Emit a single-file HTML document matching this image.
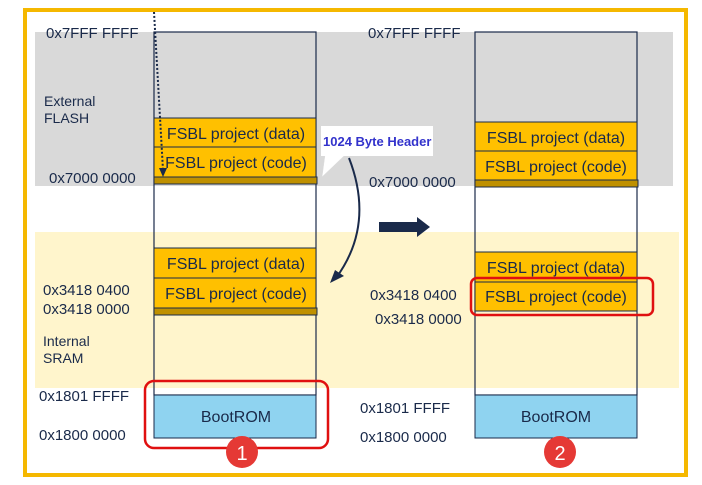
<!DOCTYPE html>
<html><head><meta charset="utf-8"><style>
body{margin:0;width:702px;height:485px;background:#fff;overflow:hidden}
svg{display:block}
text{font-family:"Liberation Sans",Arial,sans-serif;fill:#1a2a4a}
</style></head><body>
<svg width="702" height="485" viewBox="0 0 702 485">
<rect x="25" y="10" width="661" height="465" fill="none" stroke="#f5b800" stroke-width="4"/>
<rect x="35" y="32" width="638" height="154" fill="#d9d9d9"/>
<rect x="35" y="232" width="644" height="156" fill="#fff5cc"/>
<g font-size="15">
<text x="46" y="38">0x7FFF FFFF</text>
<text x="368" y="38">0x7FFF FFFF</text>
<text x="44" y="106" font-size="14">External</text>
<text x="44" y="123" font-size="14">FLASH</text>
<text x="49" y="183">0x7000 0000</text>
<text x="369" y="187">0x7000 0000</text>
<text x="43" y="295">0x3418 0400</text>
<text x="43" y="314">0x3418 0000</text>
<text x="370" y="300">0x3418 0400</text>
<text x="375" y="324">0x3418 0000</text>
<text x="43" y="346" font-size="14">Internal</text>
<text x="43" y="363" font-size="14">SRAM</text>
<text x="39" y="401">0x1801 FFFF</text>
<text x="39" y="440">0x1800 0000</text>
<text x="360" y="413">0x1801 FFFF</text>
<text x="360" y="442">0x1800 0000</text>
</g>
<!-- left column -->
<rect x="154" y="32" width="162" height="363" fill="none" stroke="#1a2a4a" stroke-width="1.2"/>
<g stroke="#1a2a4a" stroke-width="1">
<rect x="154" y="118" width="162" height="29" fill="#ffc000"/>
<rect x="154" y="147" width="162" height="30" fill="#ffc000"/>
<rect x="154" y="177" width="163" height="7" fill="#bf9000"/>
<rect x="154" y="248" width="162" height="30" fill="#ffc000"/>
<rect x="154" y="278" width="162" height="30" fill="#ffc000"/>
<rect x="154" y="308" width="163" height="7" fill="#bf9000"/>
<rect x="154" y="395" width="162" height="43" fill="#8fd3f0"/>
</g>
<!-- right column -->
<rect x="475" y="32" width="162" height="363" fill="none" stroke="#1a2a4a" stroke-width="1.2"/>
<g stroke="#1a2a4a" stroke-width="1">
<rect x="475" y="122" width="162" height="29" fill="#ffc000"/>
<rect x="475" y="151" width="162" height="29" fill="#ffc000"/>
<rect x="475" y="180" width="163" height="7" fill="#bf9000"/>
<rect x="475" y="252" width="162" height="30" fill="#ffc000"/>
<rect x="475" y="282" width="162" height="29" fill="#ffc000"/>
<rect x="475" y="395" width="162" height="43" fill="#8fd3f0"/>
</g>
<g font-size="16" text-anchor="middle">
<text x="236" y="139">FSBL project (data)</text>
<text x="236" y="168">FSBL project (code)</text>
<text x="236" y="269">FSBL project (data)</text>
<text x="236" y="299">FSBL project (code)</text>
<text x="236" y="422">BootROM</text>
<text x="556" y="143">FSBL project (data)</text>
<text x="556" y="172">FSBL project (code)</text>
<text x="556" y="273">FSBL project (data)</text>
<text x="556" y="302">FSBL project (code)</text>
<text x="556" y="422">BootROM</text>
</g>
<!-- dotted arrow -->
<line x1="154" y1="12" x2="163" y2="170" stroke="#1a2a4a" stroke-width="2" stroke-dasharray="2,2"/>
<polygon points="159,168 167,168 163,177" fill="#1a2a4a"/>
<!-- callout -->
<polygon points="325,155 345,155 322,177" fill="#fff" stroke="#ddd" stroke-width="0.5"/>
<rect x="321" y="126" width="112" height="30" fill="#fff"/>
<text x="323" y="146" font-size="13" font-weight="bold" style="fill:#3333cc">1024 Byte Header</text>
<path d="M349,158 Q375,225 336,278" fill="none" stroke="#1a2a4a" stroke-width="2"/>
<polygon points="330,283 344,276 335,270" fill="#1a2a4a"/>
<!-- big arrow -->
<polygon points="379,222 417,222 417,217 430,227 417,237 417,232 379,232" fill="#1a2a4a"/>
<!-- red highlights -->
<rect x="145" y="381" width="183" height="67" rx="9" fill="none" stroke="#e01010" stroke-width="2.5"/>
<rect x="471" y="278" width="182" height="37" rx="6" fill="none" stroke="#e01010" stroke-width="2.5"/>
<circle cx="242" cy="452" r="16" fill="#e53935"/>
<text x="242" y="460" font-size="20" text-anchor="middle" style="fill:#fff">1</text>
<circle cx="560" cy="452" r="16" fill="#e53935"/>
<text x="560" y="460" font-size="20" text-anchor="middle" style="fill:#fff">2</text>
</svg>
</body></html>
